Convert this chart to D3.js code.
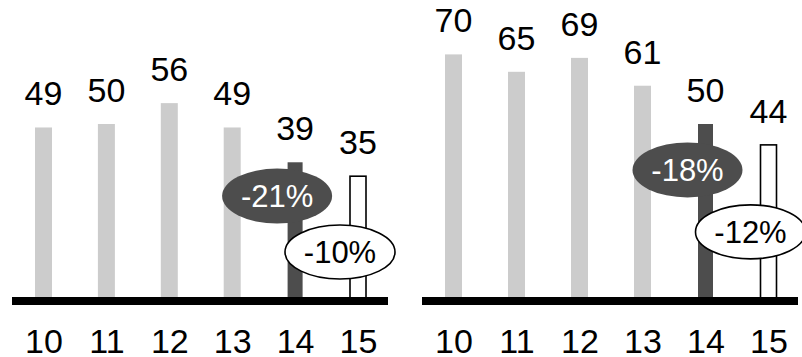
<!DOCTYPE html>
<html>
<head>
<meta charset="utf-8">
<script src="https://cdn.jsdelivr.net/npm/d3@7"></script>
<style>
  html, body { margin: 0; padding: 0; background: #ffffff; }
  svg { display: block; font-family: "Liberation Sans", Arial, sans-serif; }
</style>
</head>
<body>
<svg id="chart" width="802" height="357"></svg>
<script>
// Years shown on both panels
const years = ["10", "11", "12", "13", "14", "15"];

// Panel values
const leftValues = [49, 50, 56, 49, 39, 35];
const rightValues = [70, 65, 69, 61, 50, 44];

// Bar style per year: past years, the latest actual, the forecast
const barKinds = ["past", "past", "past", "past", "actual", "forecast"];

// Change callouts (text, which bar they sit on, and the value level of the bubble centre)
const leftCallouts = [
  { text: "-21%", bar: "14", level: 29.3, kind: "dark" },
  { text: "-10%", bar: "15", level: 13.2, kind: "light" }
];
const rightCallouts = [
  { text: "-18%", bar: "14", level: 36.8, kind: "dark" },
  { text: "-12%", bar: "15", level: 19.0, kind: "light" }
];

const svg = d3.select("#chart");
const baseY = 298;
const y = d3.scaleLinear().domain([0, 80]).range([baseY, baseY - 80 * 3.48]);

const FONT = 34;
const CALLOUT_FONT = 31;
const colors = { past: "#cccccc", actual: "#4d4d4d", forecast: "#ffffff" };

function drawPanel(values, callouts, x0, x1, c0, c1) {
  const g = svg.append("g");
  const x = d3.scalePoint().domain(years).range([c0, c1]);
  const data = years.map((yr, i) => ({ yr, v: values[i], kind: barKinds[i] }));

  // bars
  g.selectAll("rect.bar").data(data).enter().append("rect")
    .attr("class", "bar")
    .attr("x", d => x(d.yr) - (d.kind === "actual" ? 7.5 : d.kind === "forecast" ? 8 : 8.5))
    .attr("width", d => d.kind === "actual" ? 15 : d.kind === "forecast" ? 16 : 17)
    .attr("y", d => y(d.v))
    .attr("height", d => baseY - y(d.v))
    .attr("fill", d => colors[d.kind])
    .attr("stroke", d => d.kind === "forecast" ? "#000" : "none")
    .attr("stroke-width", 1.6);

  // value labels
  g.selectAll("text.val").data(data).enter().append("text")
    .attr("class", "val")
    .attr("x", d => x(d.yr))
    .attr("y", d => y(d.v) - 22)
    .attr("text-anchor", "middle")
    .attr("font-size", FONT)
    .attr("fill", "#000")
    .text(d => d.v);

  // baseline
  g.append("line")
    .attr("x1", x0).attr("x2", x1)
    .attr("y1", baseY + 3).attr("y2", baseY + 3)
    .attr("stroke", "#000").attr("stroke-width", 8);

  // year axis
  const axis = g.append("g")
    .attr("transform", `translate(0,${baseY})`)
    .call(d3.axisBottom(x).tickSize(0).tickPadding(31));
  axis.select(".domain").remove();
  axis.selectAll("text")
    .attr("font-size", FONT)
    .attr("font-family", "Liberation Sans, Arial, sans-serif")
    .attr("fill", "#000");

  // change callouts
  const cg = g.selectAll("g.callout").data(callouts).enter().append("g")
    .attr("class", "callout")
    .attr("transform", d => `translate(${x(d.bar) - 18},${y(d.level)})`);
  cg.append("ellipse")
    .attr("rx", 55).attr("ry", d => d.kind === "dark" ? 27.5 : 27)
    .attr("fill", d => d.kind === "dark" ? "#4d4d4d" : "#ffffff")
    .attr("stroke", d => d.kind === "dark" ? "none" : "#000")
    .attr("stroke-width", 1.6);
  cg.append("text")
    .attr("text-anchor", "middle")
    .attr("dy", "0.36em")
    .attr("font-size", CALLOUT_FONT)
    .attr("fill", d => d.kind === "dark" ? "#ffffff" : "#000")
    .text(d => d.text);
}

drawPanel(leftValues, leftCallouts, 12, 388, 43.5, 358);
drawPanel(rightValues, rightCallouts, 422, 798, 453.5, 768.5);
</script>
</body>
</html>
